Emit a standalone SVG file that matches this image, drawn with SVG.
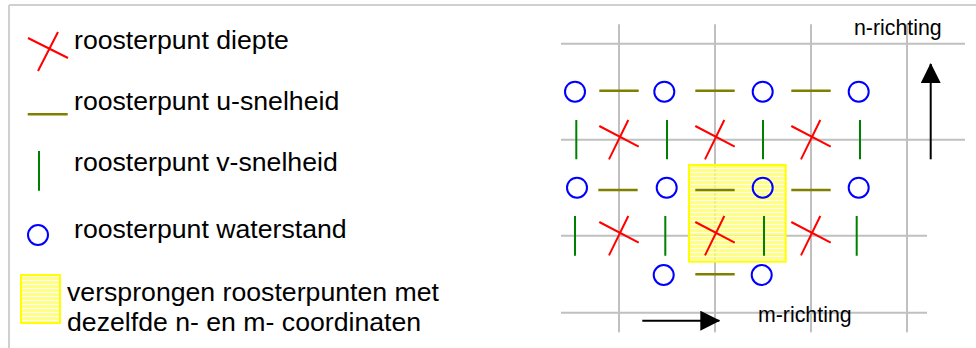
<svg xmlns="http://www.w3.org/2000/svg" width="976" height="348" viewBox="0 0 976 348">
<style>
.t{font-family:"Liberation Sans",Arial,sans-serif;font-size:26.67px;fill:#000}
.s{font-family:"Liberation Sans",Arial,sans-serif;font-size:21.33px;fill:#000}
.grid{stroke:#c0c0c0;stroke-width:2;fill:none}
.frame{stroke:#d0d0d0;stroke-width:2;fill:none}
.d{stroke:#ff0000;stroke-width:2;fill:none}
.u{stroke:#808000;stroke-width:2.5;fill:none}
.v{stroke:#008000;stroke-width:2;fill:none}
.w{stroke:#0000ff;stroke-width:2;fill:none}
.arr{stroke:#000;stroke-width:2;fill:none}
.hl{fill:url(#stripes);stroke:#ffff00;stroke-width:2}
</style>
<defs>
<pattern id="stripes" patternUnits="userSpaceOnUse" width="8" height="4" y="1">
<rect x="0" y="0" width="8" height="3" fill="#ffff66" fill-opacity="0.8"/>
<rect x="0" y="3" width="8" height="1" fill="#ffffff"/>
</pattern>
<g id="x"><path d="M-19.7 -11.7 L19.7 9 M9.3 -17.7 L-10 21.7"/></g>
<marker id="ah" markerWidth="20" markerHeight="20" refX="19" refY="10" orient="auto" markerUnits="userSpaceOnUse">
<path d="M0 0 L20 10 L0 20 Z" fill="#000"/>
</marker>
</defs>
<rect width="976" height="348" fill="#fff"/>
<g id="frame" class="frame"><path d="M9 5 H976 M9 5 V348"/></g>

<g id="legend-diepte">
<path class="d" d="M28 38 L68 58 M58 32 L38 71"/>
<text class="t" x="74" y="49">roosterpunt diepte</text>
</g>
<g id="legend-u">
<path class="u" d="M27.7 114.3 H67.7"/>
<text class="t" x="74" y="110">roosterpunt u-snelheid</text>
</g>
<g id="legend-v">
<path class="v" d="M39 151 V190.7"/>
<text class="t" x="74" y="171">roosterpunt v-snelheid</text>
</g>
<g id="legend-waterstand">
<circle class="w" cx="38" cy="235" r="10"/>
<text class="t" x="74" y="238">roosterpunt waterstand</text>
</g>
<g id="legend-verspringing">
<rect class="hl" x="21" y="275" width="39" height="48"/>
<text class="t" x="67" y="301">versprongen roosterpunten met</text>
<text class="t" x="67" y="331">dezelfde n- en m- coordinaten</text>
</g>

<g id="grid" class="grid">
<path d="M561 43.7 H965 M561 139.7 H965 M561 235.7 H927 M561 312.7 H927"/>
<path d="M619 24.3 V332.3 M715 24.3 V332.3 M811 24.3 V332.3 M907 24.3 V332.3"/>
</g>

<g id="highlight">
<rect class="hl" x="689" y="165" width="96.7" height="96.7"/>
</g>

<g id="diepte-punten" class="d">
<use href="#x" x="619" y="137.7"/>
<use href="#x" x="715" y="137.7"/>
<use href="#x" x="811" y="137.7"/>
<use href="#x" x="619" y="233.7"/>
<use href="#x" x="715" y="233.7"/>
<use href="#x" x="811" y="233.7"/>
</g>
<g id="u-punten" class="u">
<path d="M599.3 90.7 H638.7 M695.3 90.7 H734.7 M791.3 90.7 H830.7"/>
<path d="M598.3 190 H637.7 M695.3 190 H734.7 M791.3 190 H830.7"/>
<path d="M695.3 274.3 H734.7"/>
</g>
<g id="v-punten" class="v">
<path d="M576.3 120 V159.3 M667 120 V159.3 M763 120 V159.3 M860 120 V159.3"/>
<path d="M575 216 V255.7 M665.3 216 V255.7 M764 216 V255.7 M856.7 216 V255.7"/>
</g>
<g id="waterstand-punten" class="w">
<circle cx="575" cy="91.7" r="10"/>
<circle cx="664.3" cy="91.7" r="10"/>
<circle cx="762.7" cy="91.7" r="10"/>
<circle cx="858.7" cy="91.7" r="10"/>
<circle cx="577" cy="187.7" r="10"/>
<circle cx="666.7" cy="187.7" r="10"/>
<circle cx="762.7" cy="187.7" r="10"/>
<circle cx="858.7" cy="187.7" r="10"/>
<circle cx="663.7" cy="275" r="10"/>
<circle cx="761.7" cy="275" r="10"/>
</g>

<g id="connectors">
<path class="arr" d="M930.7 159.3 V64" marker-end="url(#ah)"/>
<path class="arr" d="M642.3 320.7 H719.3" marker-end="url(#ah)"/>
</g>
<g id="n-richting"><text class="s" x="854" y="35">n-richting</text></g>
<g id="m-richting"><text class="s" x="758" y="322">m-richting</text></g>
</svg>
